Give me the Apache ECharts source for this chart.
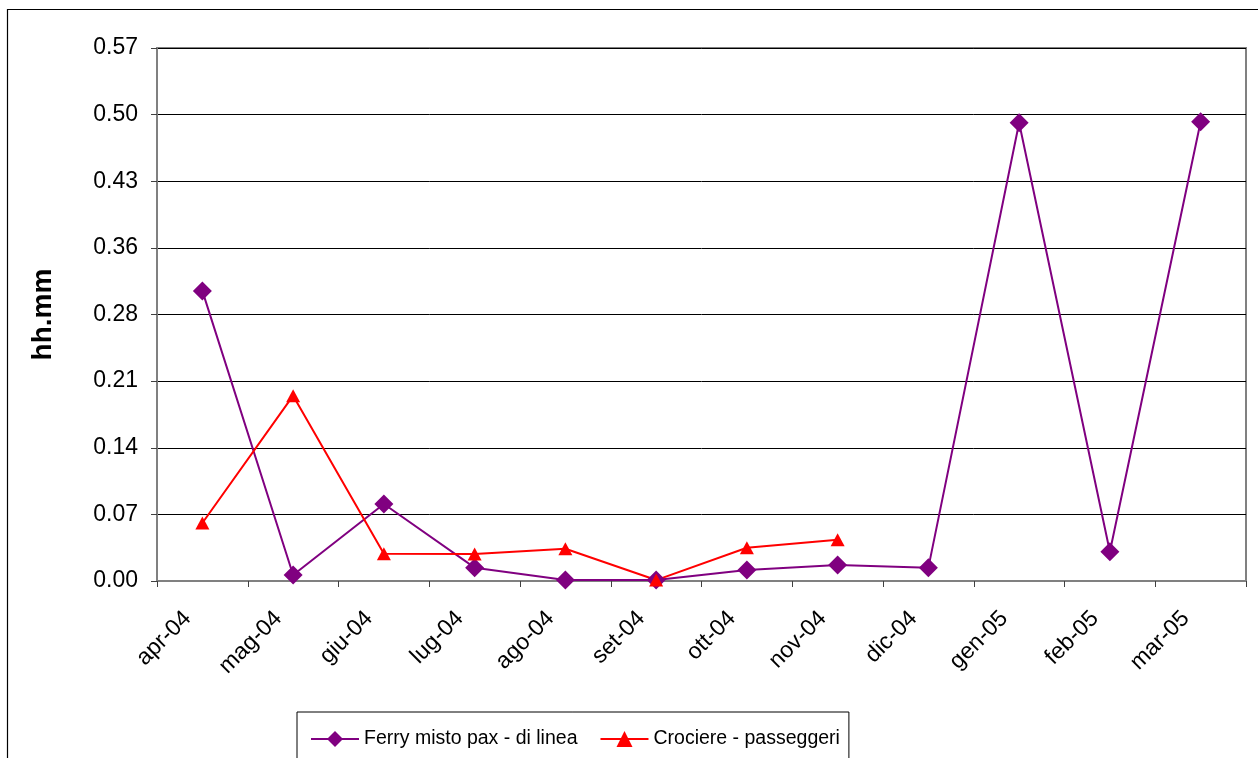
<!DOCTYPE html>
<html>
<head>
<meta charset="utf-8">
<script src="https://cdn.jsdelivr.net/npm/echarts@6/dist/echarts.min.js"></script>
<style>
  html, body { margin: 0; padding: 0; background: #ffffff; }
  #chart { width: 1258px; height: 758px; }
</style>
</head>
<body>
<div id="chart"></div>
<script>
// Months on the category axis
const months = ['apr-04', 'mag-04', 'giu-04', 'lug-04', 'ago-04', 'set-04',
                'ott-04', 'nov-04', 'dic-04', 'gen-05', 'feb-05', 'mar-05'];

// Average waiting time (hh.mm) per month
const ferryMisto = [0.311, 0.0064, 0.0825, 0.0143, 0.001, 0.001,
                    0.0118, 0.0172, 0.0143, 0.4913, 0.0314, 0.4924];
const crocierePasseggeri = [0.0622, 0.1987, 0.0293, 0.0289, 0.0346, 0.001,
                            0.0357, 0.0443, null, null, null, null];

const seriesNames = ['Ferry misto pax - di linea', 'Crociere - passeggeri'];

// Value axis: eight steps of 1/14, labelled as printed on the axis
const yStep = 1 / 14;
const yMax = 8 / 14;
const yTickLabels = ['0.00', '0.07', '0.14', '0.21', '0.28', '0.36', '0.43', '0.50', '0.57'];

const FONT = 'Liberation Sans, Arial, sans-serif';

const chart = echarts.init(document.getElementById('chart'), null, { renderer: 'canvas' });

chart.setOption({
  backgroundColor: '#ffffff',
  animation: false,
  textStyle: { fontFamily: FONT, color: '#000' },
  graphic: [{
    type: 'rect',
    silent: true,
    shape: { x: 7.5, y: 9.5, width: 1400, height: 900 },
    style: { fill: 'none', stroke: '#000', lineWidth: 1.2 },
    z: -1
  }],
  grid: {
    left: 157, right: 12, top: 48, bottom: 177,
    show: true,
    borderColor: '#808080',
    borderWidth: 2,
    backgroundColor: 'transparent',
    containLabel: false,
    outerBoundsMode: 'none'
  },
  legend: {
    left: 297,
    top: 712,
    orient: 'horizontal',
    padding: [17, 9, 40, 13],
    itemGap: 22,
    itemWidth: 48,
    itemHeight: 20,
    backgroundColor: '#ffffff',
    borderColor: '#000',
    borderWidth: 1,
    borderRadius: 0,
    textStyle: { fontFamily: FONT, fontSize: 19.5, color: '#000' },
    data: seriesNames
  },
  xAxis: {
    type: 'category',
    data: months,
    boundaryGap: true,
    axisLine: { show: true, lineStyle: { color: '#808080', width: 2 } },
    axisTick: { show: true, length: 6, alignWithLabel: false, lineStyle: { color: '#404040', width: 1 } },
    axisLabel: {
      rotate: 45,
      margin: 19,
      padding: [0, 21, 0, 0],
      interval: 0,
      hideOverlap: false,
      fontFamily: FONT,
      fontSize: 23,
      color: '#000'
    },
    splitLine: { show: false }
  },
  yAxis: {
    type: 'value',
    min: 0,
    max: yMax,
    interval: yStep,
    name: 'hh.mm',
    nameLocation: 'middle',
    nameRotate: 90,
    nameGap: 100,
    nameTextStyle: { fontFamily: FONT, fontSize: 28, fontWeight: 'bold', color: '#000' },
    axisLine: { show: true, lineStyle: { color: '#808080', width: 2 } },
    axisTick: { show: true, length: 6, lineStyle: { color: '#404040', width: 1 } },
    axisLabel: {
      margin: 19,
      fontFamily: FONT,
      fontSize: 23,
      color: '#000',
      formatter: (v, i) => yTickLabels[i]
    },
    splitLine: { show: true, showMinLine: false, showMaxLine: false, lineStyle: { color: '#000', width: 1 } }
  },
  series: [
    {
      name: seriesNames[0],
      type: 'line',
      data: ferryMisto,
      symbol: 'diamond',
      symbolSize: 19,
      showAllSymbol: true,
      connectNulls: false,
      lineStyle: { color: '#800080', width: 2 },
      itemStyle: { color: '#800080', borderWidth: 0 },
      emphasis: { disabled: true }
    },
    {
      name: seriesNames[1],
      type: 'line',
      data: crocierePasseggeri,
      symbol: 'triangle',
      symbolSize: [14, 13],
      showAllSymbol: true,
      connectNulls: false,
      lineStyle: { color: '#ff0000', width: 2 },
      itemStyle: { color: '#ff0000', borderWidth: 0 },
      emphasis: { disabled: true }
    }
  ]
});
</script>
</body>
</html>
